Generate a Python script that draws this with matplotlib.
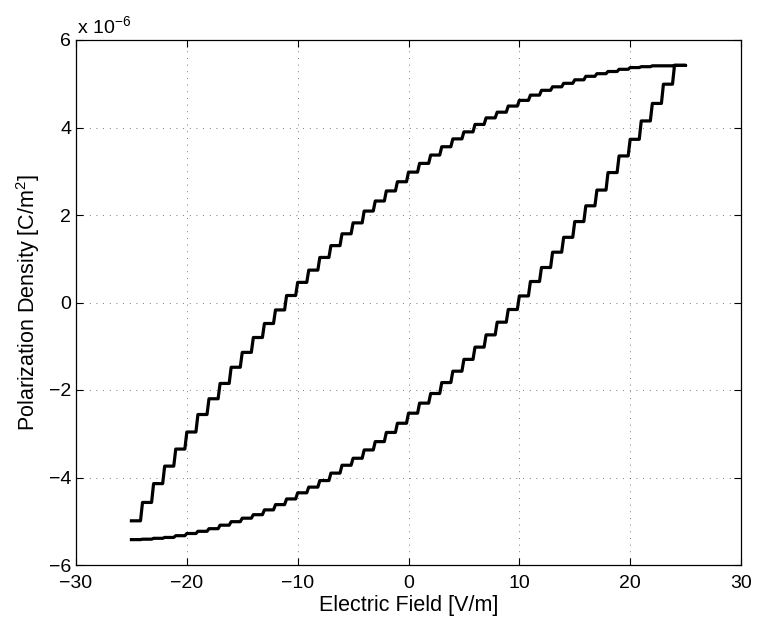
import matplotlib
matplotlib.use("Agg")
import matplotlib.pyplot as plt

plt.rcParams['font.family'] = ['Liberation Sans', 'DejaVu Sans']
plt.rcParams['mathtext.fontset'] = 'custom'
plt.rcParams['mathtext.rm'] = 'Liberation Sans'
plt.rcParams['mathtext.it'] = 'Liberation Sans:italic'

# field where the first level starts; each level holds for 1 V/m
E_START = -25

# increasing-field branch, levels in 1e-6 C/m^2, from -25 V/m upward
lower_levels = [
    -5.42, -5.41, -5.39, -5.37, -5.33, -5.28, -5.23, -5.17, -5.09, -5.01,
    -4.93, -4.85, -4.74, -4.62, -4.49, -4.35, -4.22, -4.07, -3.90, -3.72,
    -3.56, -3.37, -3.18, -2.97, -2.76, -2.53, -2.30, -2.08, -1.83, -1.57,
    -1.30, -1.02, -0.74, -0.45, -0.16, 0.15, 0.48, 0.80, 1.15, 1.49,
    1.85, 2.21, 2.57, 2.97, 3.35, 3.73, 4.15, 4.55, 4.99, 5.42,
]

# decreasing-field branch, same intervals, from -25 V/m upward
upper_levels = [
    -4.99, -4.57, -4.14, -3.74, -3.35, -2.96, -2.56, -2.20, -1.85, -1.48,
    -1.14, -0.80, -0.48, -0.17, 0.16, 0.46, 0.74, 1.03, 1.30, 1.57,
    1.82, 2.09, 2.32, 2.55, 2.76, 2.98, 3.18, 3.37, 3.56, 3.74,
    3.90, 4.07, 4.22, 4.35, 4.49, 4.62, 4.74, 4.85, 4.93, 5.01,
    5.09, 5.17, 5.23, 5.28, 5.33, 5.37, 5.39, 5.41, 5.41, 5.42,
]

x_ticks = [-30, -20, -10, 0, 10, 20, 30]
y_ticks = [-6, -4, -2, 0, 2, 4, 6]


def staircase(levels, e0, rise=0.18):
    """flat for most of each interval, short slanted rise at the end"""
    xs, ys = [], []
    for k, p in enumerate(levels):
        xs += [e0 + k, e0 + k + 1 - rise]
        ys += [p, p]
    xs.append(e0 + len(levels))
    ys.append(levels[-1])
    return xs, ys


xl, yl = staircase(lower_levels, E_START)
xu, yu = staircase(upper_levels, E_START)
# go up the lower branch, then back down the upper one
xs = xl + xu[::-1]
ys = yl + yu[::-1]

fig = plt.figure(figsize=(7.58, 6.24), dpi=100)
ax = fig.add_axes([76 / 758, 1 - 565 / 624, 665 / 758, 525 / 624])

ax.plot(xs, ys, color='k', linewidth=2.3)

ax.set_xlim(-30, 30)
ax.set_ylim(-6, 6)
ax.set_xticks(x_ticks)
ax.set_yticks(y_ticks)
ax.grid(True, color='0.3', linestyle=(0, (1, 7)), linewidth=0.6)

ax.tick_params(direction='in', length=5, width=0.8, top=True, right=True,
               labelsize=14)
ax.tick_params(axis='x', pad=7.5)
ax.tick_params(axis='y', pad=3.5)
for s in ax.spines.values():
    s.set_linewidth(0.9)

ax.set_xlabel('Electric Field [V/m]', fontsize=15.5, labelpad=2)
ax.set_ylabel('Polarization Density [C/m$^2$]', fontsize=15.5, labelpad=5)
ax.text(0.002, 1.0133, r'x 10$^{-6}$', transform=ax.transAxes,
        ha='left', va='baseline', fontsize=14)

fig.savefig('out.png', dpi=100, facecolor='white')
